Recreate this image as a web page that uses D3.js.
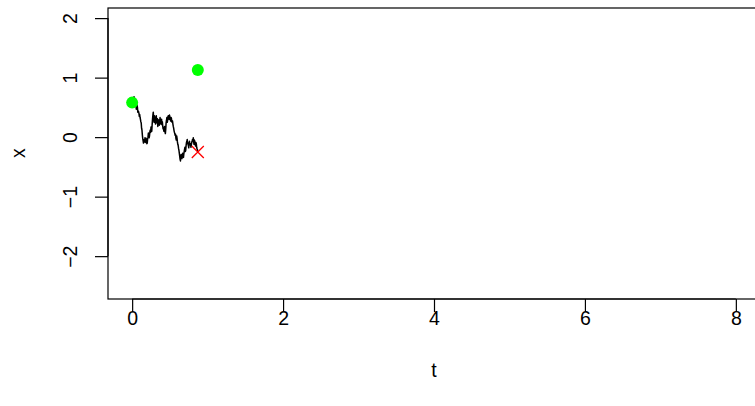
<!DOCTYPE html>
<html>
<head>
<meta charset="utf-8">
<script src="https://cdn.jsdelivr.net/npm/d3@7"></script>
<style>
  html, body { margin: 0; padding: 0; background: #fff; }
  svg { display: block; }
  text { font-family: "Liberation Sans", Arial, Helvetica, sans-serif; fill: #000; }
</style>
</head>
<body>
<svg id="chart" width="755" height="406"></svg>
<script>
// Simulated path x(t), sampled every 0.005 time units
const timeSteps = d3.range(0, 175).map(i => +(i * 0.005).toFixed(3));
const pathValues = [
  0.58, 0.62, 0.63, 0.59, 0.60, 0.68, 0.66, 0.60, 0.57, 0.52,
  0.55, 0.47, 0.49, 0.54, 0.50, 0.42, 0.44, 0.43, 0.40, 0.35,
  0.38, 0.33, 0.30, 0.26, 0.24, 0.15, 0.12, 0.04, -0.02, -0.06,
  -0.10, -0.07, -0.04, -0.08, -0.01, -0.05, -0.09, -0.02, -0.05, -0.11,
  -0.10, -0.03, 0.00, 0.07, 0.05, -0.01, 0.02, 0.09, 0.12, 0.08,
  0.17, 0.13, 0.10, 0.21, 0.30, 0.37, 0.42, 0.31, 0.25, 0.36,
  0.33, 0.26, 0.22, 0.30, 0.36, 0.24, 0.28, 0.31, 0.18, 0.23,
  0.29, 0.25, 0.20, 0.27, 0.33, 0.28, 0.22, 0.26, 0.30, 0.21,
  0.26, 0.19, 0.14, 0.16, 0.10, 0.15, 0.18, 0.09, 0.06, 0.13,
  0.24, 0.28, 0.33, 0.25, 0.28, 0.35, 0.36, 0.31, 0.30, 0.37,
  0.34, 0.30, 0.27, 0.33, 0.32, 0.26, 0.25, 0.27, 0.22, 0.18,
  0.15, 0.11, 0.08, 0.06, 0.03, 0.05, -0.02, -0.05, 0.02, -0.02,
  -0.08, -0.12, -0.14, -0.19, -0.22, -0.27, -0.32, -0.37, -0.40, -0.33,
  -0.29, -0.31, -0.36, -0.30, -0.27, -0.32, -0.34, -0.28, -0.24, -0.20,
  -0.17, -0.24, -0.22, -0.14, -0.09, -0.07, -0.04, -0.09, -0.12, -0.14,
  -0.18, -0.11, -0.07, -0.13, -0.11, -0.14, -0.17, -0.12, -0.09, -0.07,
  -0.04, -0.06, -0.01, -0.08, -0.12, -0.05, -0.07, -0.12, -0.15, -0.09,
  -0.11, -0.17, -0.20, -0.21, -0.25
];
// Marked states: start and target (filled green), end of path (red cross)
const greenPoints = [ { t: 0.00, x: 0.58 }, { t: 0.87, x: 1.13 } ];
const crossPoints = [ { t: 0.87, x: -0.25 } ];

const xTicks = [0, 2, 4, 6, 8];
const yTicks = [-2, -1, 0, 1, 2];
const xDomain = [-0.32, 8.32];
const yDomain = [-2.72, 2.17];

const svg = d3.select("#chart");
const plot = { left: 108, top: 8, bottom: 299, right: 760 };

const x = d3.scaleLinear().domain(xDomain).range([plot.left, plot.right]);
const y = d3.scaleLinear().domain(yDomain).range([plot.bottom, plot.top]);

const fontSize = 19.5;
const tickLen = 13;

// Bottom axis
const xAxis = svg.append("g")
  .attr("transform", `translate(0,${plot.bottom})`)
  .call(d3.axisBottom(x).tickValues(xTicks).tickSize(tickLen).tickPadding(0).tickFormat(d3.format("d")));
xAxis.select(".domain").attr("d", `M${x(xTicks[0])},0H${x(xTicks[xTicks.length - 1])}`);
xAxis.selectAll("text").attr("y", null).attr("dy", null)
  .attr("transform", "translate(0,19)")
  .attr("dominant-baseline", "central")
  .style("font-size", fontSize + "px").style("font-family", null);

// Left axis, labels parallel to the axis
const yAxis = svg.append("g")
  .attr("transform", `translate(${plot.left},0)`)
  .call(d3.axisLeft(y).tickValues(yTicks).tickSize(tickLen).tickPadding(0)
    .tickFormat(d => d < 0 ? "\u2212" + Math.abs(d) : String(d)));
yAxis.select(".domain").attr("d", `M0,${y(yTicks[0])}V${y(yTicks[yTicks.length - 1])}`);
yAxis.selectAll("text").attr("x", null).attr("dy", null)
  .attr("text-anchor", "middle")
  .attr("dominant-baseline", "central")
  .attr("transform", "translate(-38,0) rotate(-90)")
  .style("font-size", fontSize + "px").style("font-family", null);

svg.selectAll(".domain, .tick line").attr("stroke", "#000").attr("stroke-width", 1.2);

// Plot frame
svg.append("rect")
  .attr("x", plot.left).attr("y", plot.top)
  .attr("width", plot.right - plot.left).attr("height", plot.bottom - plot.top)
  .attr("fill", "none").attr("stroke", "#000").attr("stroke-width", 1.2);

// Axis titles
svg.append("text").attr("x", x(4)).attr("y", 370)
  .attr("text-anchor", "middle").attr("dominant-baseline", "central")
  .style("font-size", fontSize + "px").text("t");
svg.append("text")
  .attr("transform", `translate(18,${y(0) + 16}) rotate(-90)`)
  .attr("text-anchor", "middle").attr("dominant-baseline", "central")
  .style("font-size", fontSize + "px").text("x");

// Path
const line = d3.line().x((d, i) => x(timeSteps[i])).y(d => y(d));
svg.append("path").datum(pathValues)
  .attr("d", line).attr("fill", "none").attr("stroke", "#000")
  .attr("stroke-width", 1.5).attr("stroke-linejoin", "round");

// Filled points
svg.selectAll("circle.pt").data(greenPoints).enter().append("circle")
  .attr("class", "pt")
  .attr("cx", d => x(d.t)).attr("cy", d => y(d.x)).attr("r", 6)
  .attr("fill", "#00ff00");

// End-of-path cross
const cs = 6;
svg.selectAll("path.cross").data(crossPoints).enter().append("path")
  .attr("class", "cross")
  .attr("d", d => {
    const cx = x(d.t), cy = y(d.x);
    return `M${cx - cs},${cy - cs}L${cx + cs},${cy + cs}M${cx - cs},${cy + cs}L${cx + cs},${cy - cs}`;
  })
  .attr("stroke", "#ff0000").attr("stroke-width", 1.3).attr("fill", "none");
</script>
</body>
</html>
